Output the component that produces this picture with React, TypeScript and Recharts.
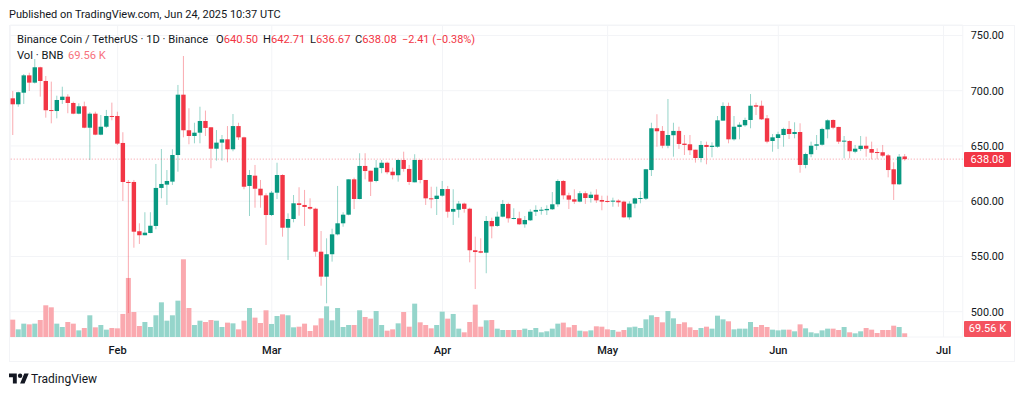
import React from 'react';
import { ComposedChart, Bar, XAxis, YAxis, CartesianGrid, ReferenceLine, Cell } from 'recharts';

const opens = [
  693.1,687.7,698.2,713.9,707.3,721.2,708.8,682.5,681.6,691.6,
  694.6,688.9,679.2,685.9,666.5,679.2,660.2,667.4,677.1,677.1,
  652.7,617.4,617.4,572.8,569.2,571.2,577.6,612,615,617.7,
  641.8,696.4,664.2,659,662,672.6,666.9,647.5,653,656,
  647,668,657.8,613.8,623.1,611.3,605.3,587.5,607.7,623.7,
  576,583.9,598.1,596.6,594.8,593.2,554.3,531.7,552,570,
  580,587.8,619.8,602,631.9,627.6,618.3,630,634.8,626.7,
  623.5,637.3,629.2,617.1,637.3,619.2,602.6,602,605,611,
  590.5,592.3,597.8,593.2,555.6,554.7,553.4,582.1,577.6,586,
  597.5,583.9,584.5,579.1,582.7,590.5,591.4,591.8,592.7,597.2,
  618.3,605.3,601.7,599.6,607.2,602.9,605.9,601.1,600.2,599.6,
  600.5,599.6,585.4,597.8,602.3,602.3,628.2,666,663.6,650.2,
  659.7,663.6,652.1,651.5,646.6,639.1,650.9,649.1,649.3,672.9,
  686.2,656,667.2,668.7,673.5,686.8,686.4,675,654.5,657.2,
  659.9,665.4,660.8,662.6,632.8,642.5,650.2,651.1,665,673.5,
  667.2,653.9,654.5,644.8,647.2,650.2,647.2,644.5,644.3,641.5,
  628.9,615.3,640.5,
];
const closes = [
  687.7,698.6,713.9,707.3,721.2,708.8,682.3,681.6,691.6,694.6,
  688.9,679.2,685.9,666.5,679.2,660.2,667.4,677.1,676.2,652.1,
  617.4,616.5,572.4,569.2,571.5,577.8,612,615.6,618.3,641.8,
  696.4,664.2,659,662,672.6,666.3,647.5,653,656,647,
  668,657.8,613.1,623.7,611.3,605.3,587.5,607.7,623.7,576,
  583.9,598.1,596.6,594.8,593.2,554.3,531.7,552,570,580,
  587.8,619.8,602,631.9,627.3,617.7,630.3,634.8,626.2,623.5,
  637.3,629.2,617.4,637.3,619.2,602.6,602,605,611,590.5,
  593,597.8,593,555.6,554,553.4,582.1,577.3,586,597.5,
  584.5,584.8,579.1,583,590.5,592.1,592.3,593,597.2,618.3,
  605.3,601.4,599.6,607.2,602.9,605.9,600.8,599.6,599.3,600.5,
  599,585.4,597.8,602.6,602.9,628.9,666,663.3,650.2,659.9,
  663.6,651.8,650.9,646.1,639.1,650.9,649.1,650.2,673.2,686.2,
  656,667.4,669.2,673.5,686.4,685.5,674.1,653.9,657.8,660.6,
  665.4,660.8,662.6,632.8,642.7,650.2,651.5,665.4,673.2,666.5,
  653.9,654.8,645.2,647.5,650.2,647.5,643.9,643.9,641.2,628.2,
  615.3,640.3,638.08,
];
const highs = [
  699.7,699.1,715.1,716.3,728.7,721.7,713.3,708.2,695.5,703.6,
  696.8,690.1,688.6,690.1,680.5,681,678,682.6,689.2,681,
  662.4,619.2,619.2,580,590,590,633.7,647.2,628.2,647,
  705.2,731.4,684.1,671,685.5,682,666.9,664.4,659.9,668,
  678.9,671,658.4,628.2,632.8,619.2,607.2,609.2,634.8,624.4,
  589,605.6,612.6,610.2,602.6,594.1,573,566.4,575.1,613.8,
  590,619.8,621.3,643.4,643.4,627.6,637.3,637.3,635.8,630.3,
  637.9,644.8,632.8,642.5,637.9,619.2,613.1,613.1,618.3,613.8,
  610.8,600.2,598.7,594.1,567.9,566.4,586.6,585.1,590.5,601.1,
  598.7,593.6,590.5,586.6,592.7,596.3,594.8,596.3,608.3,619.8,
  619.2,607.7,610.8,609.2,609,608.6,610.8,605,605,603.2,
  601.7,600.5,599.9,603.2,609,629.2,671,678.7,668,692.5,
  671,667.4,659.9,659.9,646.6,654.5,653.9,653.3,677.1,689.5,
  689.2,677.1,671.4,675.6,697,689.2,691,678,660.8,662.9,
  666.5,672.6,671.4,670.5,643.9,653.9,659.9,666.5,674.1,674.1,
  667.4,659,655.1,650.9,659,658.4,653.9,647.9,650.9,642.7,
  635.2,642.7,642.71,
];
const lows = [
  659.9,685.5,688,699.7,706.5,694.6,675.6,670.5,675,688,
  679.6,678.7,678.7,666,637.3,659.7,659.7,666.3,673.2,650.9,
  600.2,498.8,557.9,561.3,569.2,571,574.6,602.6,596.6,614.7,
  626.7,657.8,651.5,652.4,652.4,659,629.8,636.7,636.7,635.2,
  645.2,655.4,610.8,586.6,594.1,594.1,560.4,586.6,602,567.9,
  546.8,580.9,586.9,577.6,592.1,549.8,523.5,507.6,545.3,569.1,
  576.9,587.2,592.9,601.7,619.8,604.7,617.1,625.3,624.4,619.8,
  617.7,626.7,614.7,617.1,616.2,596.6,593.6,587.5,604.1,585.1,
  578.5,585.1,589.6,544.7,520.5,552.9,534.8,566.4,576.7,585.4,
  580.6,583.6,578.5,576,582.1,586.6,587.8,587.5,592.1,595,
  601.7,592.9,597.5,599,597.5,598.7,598.4,591.8,598.7,595,
  595,584.8,583.3,593.6,598.1,601.1,622.8,649.3,647.9,647.9,
  640.3,647.3,641.8,641.8,634.9,635.2,633.4,639.8,648.4,672.9,
  652.4,654.8,656,667.4,666,678,673.5,652.4,644.8,647.3,
  649.3,656.3,656.9,625.8,629.8,639.8,646.4,650.2,656.9,665.1,
  651.8,638.8,638.8,643.4,645.4,640.3,637.9,637.9,639.8,621.6,
  601.1,614.7,636.67,
];
const volumes = [
  326,144,251,238,251,320,596,558,251,188,
  282,251,125,169,408,182,226,138,169,163,
  433,1110,470,207,282,188,408,652,307,408,
  683,1461,545,226,307,282,320,307,188,270,
  257,144,307,545,364,263,502,245,395,426,
  408,182,194,251,113,219,351,577,314,545,
  188,226,226,502,376,345,489,226,119,144,
  257,470,194,627,276,226,163,226,477,345,
  433,157,88,282,608,194,314,320,157,132,
  132,132,132,157,132,169,88,107,157,251,
  270,182,226,119,107,125,201,194,144,132,
  100,132,182,194,169,332,408,376,276,489,
  351,245,276,182,132,169,194,157,401,332,
  295,144,157,157,282,188,226,188,138,125,
  138,138,107,238,163,88,69,125,157,157,
  132,188,88,69,107,169,138,75,132,132,
  213,188,69.56,
];

const FIRST_DAY = Date.UTC(2025, 0, 13);
const TOTAL_SLOTS = 173;
const monthTicks = ['2025-02-01', '2025-03-01', '2025-04-01', '2025-05-01', '2025-06-01', '2025-07-01'];
const monthNames: Record<string, string> = { '02': 'Feb', '03': 'Mar', '04': 'Apr', '05': 'May', '06': 'Jun', '07': 'Jul' };
const priceTicks = [500, 550, 600, 650, 700, 750];
const lastPrice = 638.08;

const data = Array.from({ length: TOTAL_SLOTS }, (_, i) => {
  const date = new Date(FIRST_DAY + i * 86400000).toISOString().slice(0, 10);
  if (i >= opens.length) return { date };
  return {
    date,
    open: opens[i],
    close: closes[i],
    high: highs[i],
    low: lows[i],
    range: [lows[i], highs[i]],
    volume: volumes[i],
  };
});

const GREEN = '#089981';
const RED = '#f23645';
const VOL_GREEN = '#95d5cb';
const VOL_RED = '#faa9af';
const FONT = 'Roboto, sans-serif';

function Candle(props: any) {
  const { x, y, width, height, payload } = props;
  if (!payload || payload.open == null) return null;
  const { open, close, high, low } = payload;
  const unit = height / (high - low);
  const up = close >= open;
  const color = up ? GREEN : RED;
  const cx = x + width / 2;
  const top = y + (high - Math.max(open, close)) * unit;
  const bodyH = Math.max(Math.abs(open - close) * unit, 1);
  return (
    <g>
      <line x1={cx} x2={cx} y1={y} y2={y + height} stroke={color} strokeOpacity={0.42} strokeWidth={1} />
      <rect x={cx - 2.2} y={top} width={4.4} height={bodyH} fill={color} />
    </g>
  );
}

function TvLogo() {
  return (
    <svg width="20" height="16" viewBox="0 0 36 28" style={{ position: 'absolute', left: 9, top: 371 }}>
      <path d="M14 22H7V11H0V4h14v18zM28 22h-8l7.5-18h8L28 22z" fill="#131722" />
      <circle cx="20" cy="8" r="4" fill="#131722" />
    </svg>
  );
}

const textBase: React.CSSProperties = { position: 'absolute', fontFamily: FONT, whiteSpace: 'pre', color: '#131722' };
const redText: React.CSSProperties = { color: RED };

const legendPairs: [string, string, number][] = [
  ['O', '640.50', 216],
  ['H', '642.71', 263],
  ['L', '636.67', 310],
  ['C', '638.08', 355],
];

export default function App() {
  return (
    <div style={{ position: 'absolute', left: 0, top: 0, width: 1024, height: 395, background: '#fff', overflow: 'hidden' }}>
      <div style={{ ...textBase, left: 9, top: 8, fontSize: 11 }}>Published on TradingView.com, Jun 24, 2025 10:37 UTC</div>
      <div style={{ position: 'absolute', left: 9, top: 25, width: 1006, height: 337, border: '1px solid #f3f4f7', boxSizing: 'border-box' }} />
      <ComposedChart
        width={1024}
        height={395}
        data={data}
        barGap={-5}
        margin={{ top: 25, left: 10.25, right: 9.25, bottom: 33 }}
        style={{ position: 'absolute', left: 0, top: 0 }}
      >
        <CartesianGrid stroke="#f3f4f7" yAxisId="price" />
        <XAxis
          dataKey="date"
          ticks={monthTicks}
          interval={0}
          axisLine={false}
          tickLine={false}
          tickMargin={3}
          height={25}
          tickFormatter={(v: string) => monthNames[v.slice(5, 7)]}
          tick={{ fontFamily: FONT, fontSize: 11, fill: '#131722', fontWeight: 500 }}
        />
        <YAxis
          yAxisId="price"
          orientation="right"
          width={52}
          domain={[477.1, 759.46]}
          ticks={priceTicks}
          allowDataOverflow
          axisLine={false}
          tickLine={false}
          tickSize={0}
          tickMargin={8}
          tickFormatter={(v: number) => v.toFixed(2)}
          tick={{ fontFamily: FONT, fontSize: 10.8, fill: '#131722', textAnchor: 'start' }}
        />
        <YAxis yAxisId="vol" hide domain={[0, 5865.6]} allowDataOverflow />
        <Bar yAxisId="vol" dataKey="volume" barSize={5} isAnimationActive={false}>
          {data.map((d: any, i) => (
            <Cell key={i} fill={d.close >= d.open ? VOL_GREEN : VOL_RED} />
          ))}
        </Bar>
        <Bar yAxisId="price" dataKey="range" barSize={5} shape={Candle} isAnimationActive={false} />
        <ReferenceLine yAxisId="price" y={lastPrice} stroke={RED} strokeOpacity={0.5} strokeDasharray="1 2" />
      </ComposedChart>
      <div style={{ ...textBase, left: 17, top: 33, fontSize: 11.2 }}>Binance Coin / TetherUS · 1D · Binance</div>
      {legendPairs.map(([letter, value, left]) => (
        <div key={letter} style={{ ...textBase, left, top: 33, fontSize: 11.2 }}>
          {letter}
          <span style={redText}>{value}</span>
        </div>
      ))}
      <div style={{ ...textBase, ...redText, left: 402, top: 33, fontSize: 10.9 }}>−2.41 (−0.38%)</div>
      <div style={{ ...textBase, left: 17, top: 49, fontSize: 11.2 }}>Vol · BNB</div>
      <div style={{ ...textBase, left: 68, top: 49, fontSize: 11.2, color: '#f7727d' }}>69.56 K</div>
      <div style={{ ...textBase, left: 964, top: 152, width: 47, height: 15, lineHeight: '15px', background: RED, color: '#fff', fontSize: 11, textAlign: 'center', borderRadius: 1 }}>638.08</div>
      <div style={{ ...textBase, left: 964, top: 321, width: 47, height: 16, lineHeight: '16px', background: '#f4535f', color: '#fff', fontSize: 11, textAlign: 'center', borderRadius: 1 }}>69.56 K</div>
      <TvLogo />
      <div style={{ ...textBase, left: 31, top: 372, fontSize: 12 }}>TradingView</div>
    </div>
  );
}
